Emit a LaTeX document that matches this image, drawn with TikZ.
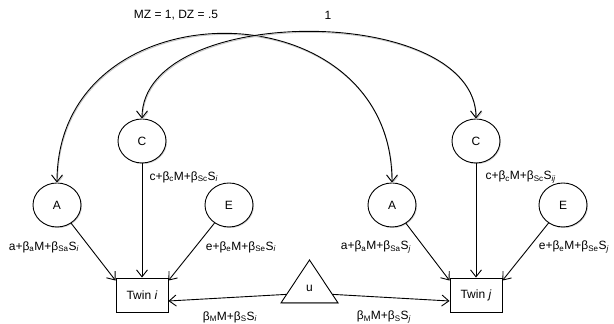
\documentclass[tikz,border=0pt]{standalone}
\usepackage{fontspec}
\setmainfont{Liberation Sans}
\usepackage{tikz}
\usetikzlibrary{arrows.meta}
\usetikzlibrary{shapes.geometric}
\usetikzlibrary{shadows}

\begin{document}
\begin{tikzpicture}[x=1pt, y=1pt, font=\fontsize{12}{14}\selectfont,
    >={Straight Barb[length=7pt,width=11pt]},
    shade/.style={drop shadow={shadow xshift=1pt, shadow yshift=-1pt, opacity=0.35}},
    latent/.style={ellipse, draw, fill=white, line width=0.9pt, minimum width=48pt, minimum height=44pt, shade},
    twin/.style={rectangle, draw, fill=white, line width=0.9pt, minimum width=52pt, minimum height=34pt, shade},
    path/.style={->, line width=0.9pt},
    arcpath/.style={<->, line width=0.9pt,
        preaction={draw=gray!45, line width=0.9pt, transform canvas={shift={(0.6pt,-1.1pt)}}}}]
		      \useasboundingbox (0,0) rectangle (614,324);

		      % twin i
		      \node[latent] (al) at (57, 119) {A};
		      \node[latent] (cl) at (142, 183) {C};
		      \node[latent] (el) at (229, 119) {E};
		      \node[twin] (twini) at (142, 29) {Twin \textit{i}};

		      % twin j
		      \node[latent] (ar) at (392, 119) {A};
		      \node[latent] (cr) at (476, 183) {C};
		      \node[latent] (er) at (563, 119) {E};
		      \node[twin] (twinj) at (476, 29) {Twin \textit{j}};

		      \node[isosceles triangle, isosceles triangle stretches, shape border rotate=90, draw, fill=white, shade,
		            line width=0.9pt, minimum width=57pt, minimum height=43pt, inner sep=0pt] (u) at (309.5, 35.5) {u};

		      \draw[path] (al) -- ([yshift=-3pt]twini.north west);
		      \draw[path] (cl) -- (twini);
		      \draw[path] (el) -- ([yshift=-3pt]twini.north east);

		      \draw[path] (ar) -- ([yshift=-3pt]twinj.north west);
		      \draw[path] (cr) -- (twinj);
		      \draw[path] (er) -- ([yshift=-3pt]twinj.north east);

		      \draw[path] ([shift={(6pt,9pt)}]u.left corner) -- ([yshift=-6pt]twini.east);
		      \draw[path] ([shift={(-6pt,9pt)}]u.right corner) -- ([yshift=-6pt]twinj.west);

		      % correlations between the twins
		      \draw[arcpath] (al.north) to[out=90, in=90, looseness=1.52] (ar.north);
		      \draw[arcpath] (cl.north) to[out=90, in=90, looseness=0.89] (cr.north);

		      \node (mzdz) at (176, 309) {MZ = 1, DZ = .5};
		      \node (one) at (328, 309) {1};

		      \node (lai) at (44, 77) {a+β\textsubscript{a}M+β\textsubscript{Sa}S\textsubscript{\textit{i}}};
		      \node[anchor=west] (lci) at (146, 147) {c+β\textsubscript{c}M+β\textsubscript{Sc}S\textsubscript{\textit{i}}};
		      \node (lei) at (241, 77) {e+β\textsubscript{e}M+β\textsubscript{Se}S\textsubscript{\textit{i}}};
		      \node (lui) at (230, 7) {β\textsubscript{M}M+β\textsubscript{S}S\textsubscript{\textit{i}}};

		      \node (laj) at (376, 77) {a+β\textsubscript{a}M+β\textsubscript{Sa}S\textsubscript{\textit{j}}};
		      \node[anchor=west] (lcj) at (482, 147) {c+β\textsubscript{c}M+β\textsubscript{Sc}S\textsubscript{\textit{ij}}};
		      \node (lej) at (574, 77) {e+β\textsubscript{e}M+β\textsubscript{Se}S\textsubscript{\textit{j}}};
		      \node (luj) at (384, 7) {β\textsubscript{M}M+β\textsubscript{S}S\textsubscript{\textit{j}}};
	      \end{tikzpicture}
\end{document}
